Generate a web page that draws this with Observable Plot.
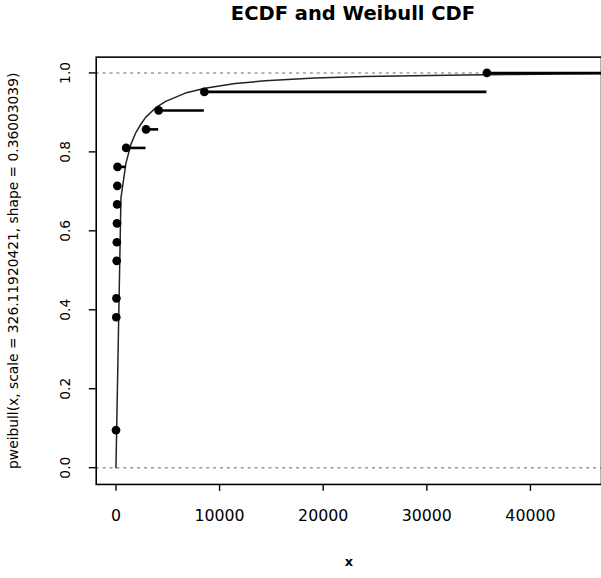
<!DOCTYPE html>
<html>
<head>
<meta charset="utf-8">
<script src="https://cdn.jsdelivr.net/npm/d3@7"></script>
<script src="https://cdn.jsdelivr.net/npm/@observablehq/plot@0.6"></script>
<style>
  html, body { margin: 0; padding: 0; background: #fff; overflow: hidden; }
  #wrap { position: relative; width: 601px; height: 578px; overflow: hidden; background: #fff; }
  #title { position: absolute; top: 2px; left: 97px; width: 512px; text-align: center; line-height: 24px;
           font-family: "DejaVu Sans", sans-serif; font-weight: bold; font-size: 19.5px; color: #000; }
  #chart { position: absolute; top: 30px; left: 0; }
</style>
</head>
<body>
<div id="wrap">
  <div id="title">ECDF and Weibull CDF</div>
  <div id="chart"></div>
</div>
<script>
// ECDF jump points (x value, cumulative proportion)
const ecdfX = [5, 30, 45, 70, 85, 100, 115, 130, 150, 985, 2900, 4120, 8530, 35800];
const ecdfY = [0.095, 0.381, 0.429, 0.524, 0.571, 0.619, 0.667, 0.714, 0.762, 0.810, 0.857, 0.905, 0.952, 1.0];

// Weibull CDF curve
const curveX = [0, 480, 960, 1440, 1920, 2400, 2880, 3840, 4800, 6700, 8600, 11500, 14400, 19200, 24000, 28800, 33600, 38400, 43200, 46800];
const curveY = [0, 0.683, 0.771, 0.819, 0.849, 0.870, 0.888, 0.912, 0.928, 0.949, 0.961, 0.973, 0.980, 0.987, 0.991, 0.993, 0.995, 0.996, 0.997, 0.998];

const xTicks = [0, 10000, 20000, 30000, 40000];
const yTicks = [0, 0.2, 0.4, 0.6, 0.8, 1.0];
const yTickLabels = ["0.0", "0.2", "0.4", "0.6", "0.8", "1.0"];
const refLines = [0, 1];

const title = "ECDF and Weibull CDF";
const xLabel = "x";
const yLabel = "pweibull(x, scale = 326.11920421, shape = 0.36003039)";

const xDomain = [-1905, 46857];
const yDomain = [-0.0425, 1.04];

const points = ecdfX.map((x, i) => ({x, y: ecdfY[i]}));
const segs = ecdfX.map((x, i) => ({x1: x, x2: i + 1 < ecdfX.length ? ecdfX[i + 1] : xDomain[1], y: ecdfY[i]}));
const curve = curveX.map((x, i) => ({x, y: curveY[i]}));
const yLab = yTicks.map((v, i) => ({y: v, t: yTickLabels[i]}));

const plot = Plot.plot({
  width: 609,
  height: 548,
  marginLeft: 97,
  marginRight: 0,
  marginTop: 27,
  marginBottom: 88,
  style: {fontFamily: "DejaVu Sans, sans-serif", background: "#fff", color: "#000", overflow: "visible"},
  x: {type: "linear", domain: xDomain},
  y: {type: "linear", domain: yDomain},
  marks: [
    Plot.ruleY(refLines, {stroke: "#9a9a9a", strokeWidth: 1.5, strokeDasharray: "3,4"}),
    Plot.line(curve, {x: "x", y: "y", stroke: "#222", strokeWidth: 1.5}),
    Plot.ruleY(segs, {y: "y", x1: "x1", x2: "x2", stroke: "#000", strokeWidth: 2.6}),
    Plot.dot(points, {x: "x", y: "y", r: 4.4, fill: "#000", stroke: "none"}),
    Plot.frame({stroke: "#000", strokeWidth: 1.6}),
    Plot.axisX({ticks: xTicks, tickSize: 7, tickPadding: 19, tickFormat: d => String(d), fontSize: 16, label: null, strokeWidth: 1.4}),
    Plot.axisY({ticks: yTicks, tickSize: 7, tickFormat: () => "", label: null, strokeWidth: 1.4}),
    Plot.text(yLab, {y: "y", text: "t", frameAnchor: "left", dx: -31, rotate: -90, textAnchor: "middle", lineAnchor: "middle", fontSize: 14, fill: "#000"}),
    Plot.text([xLabel], {text: d => d, frameAnchor: "bottom", dy: 78, lineAnchor: "middle", fontSize: 13, fontWeight: "bold", fill: "#000"}),
    Plot.text([yLabel], {text: d => d, frameAnchor: "left", dx: -84, rotate: -90, textAnchor: "middle", lineAnchor: "middle", fontSize: 14, fill: "#000"})
  ]
});
document.getElementById("chart").appendChild(plot);
</script>
</body>
</html>
